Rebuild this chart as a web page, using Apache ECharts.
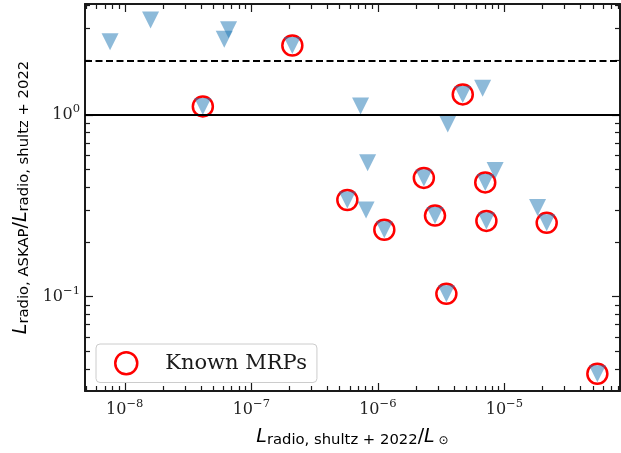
<!DOCTYPE html>
<html><head><meta charset="utf-8">
<script src="https://cdn.jsdelivr.net/npm/echarts@6/dist/echarts.min.js"></script>
<style>html,body{margin:0;padding:0;background:#fff}#c{width:621px;height:453px}</style>
</head><body><div id="c"></div>
<script>
// All sources (downward triangles = upper limits)
const srcX = [7.65e-9, 1.60e-8, 6.11e-8, 6.61e-8, 2.11e-7, 4.14e-8, 7.30e-7, 4.69e-6, 6.73e-6, 3.57e-6, 8.30e-7, 2.31e-6, 7.06e-6, 8.45e-6, 5.74e-7, 8.07e-7, 1.125e-6, 2.83e-6, 7.21e-6, 1.83e-5, 2.16e-5, 3.48e-6, 5.43e-5];
const srcY = [2.53, 3.33, 2.61, 2.94, 2.41, 1.114, 1.12, 1.297, 1.403, 0.892, 0.546, 0.450, 0.425, 0.494, 0.340, 0.300, 0.233, 0.279, 0.261, 0.309, 0.2545, 0.1035, 0.0376];
// Known MRPs (red circles)
const mrpX = [2.11e-7, 4.14e-8, 4.69e-6, 2.31e-6, 7.06e-6, 5.74e-7, 1.125e-6, 2.83e-6, 7.21e-6, 2.16e-5, 3.48e-6, 5.43e-5];
const mrpY = [2.41, 1.114, 1.297, 0.450, 0.425, 0.340, 0.233, 0.279, 0.261, 0.2545, 0.1035, 0.0376];
// Reference lines: ratio = 1 (solid), ratio = 2 (dashed)
const refLines = [1, 2];
// Axis ranges
const xRange = [4.85e-9, 8.2e-5];
const yRange = [0.0302, 4.08];
// Major ticks and labels
const xMajor = [1e-8, 1e-7, 1e-6, 1e-5];
const xTickExp = ['\u22128', '\u22127', '\u22126', '\u22125'];
const yMajor = [1e-1, 1e0];
const yTickExp = ['\u22121', '0'];

const lg = Math.log10;
const xMin = lg(xRange[0]), xMax = lg(xRange[1]);
const yMin = lg(yRange[0]), yMax = lg(yRange[1]);
function minorTicks(lo, hi) {
  const out = [];
  for (let n = Math.floor(lo) - 1; n <= Math.ceil(hi); n++) {
    for (let k = 2; k <= 9; k++) {
      const v = n + lg(k);
      if (v > lo && v < hi) out.push(v);
    }
  }
  return out;
}
const xMajorLog = xMajor.map(lg), yMajorLog = yMajor.map(lg);
const xMinorLog = minorTicks(xMin, xMax), yMinorLog = minorTicks(yMin, yMax);

const INK = '#1a1a1a';
const tickRich = {
  b: {fontFamily: 'DejaVu Serif', fontSize: 16, color: '#222'},
  s: {fontFamily: 'DejaVu Serif', fontSize: 11.5, color: '#222', padding: [0, 0, 11, 0]}
};
function fmt(majors, exps) {
  return function (v) {
    const i = majors.findIndex(t => Math.abs(t - v) < 1e-6);
    return i < 0 ? '' : '{b|10}{s|' + exps[i] + '}';
  };
}
const nameRich = {
  L: {fontFamily: 'DejaVu Sans', fontStyle: 'italic', fontSize: 19, color: '#000'},
  s: {fontFamily: 'DejaVu Sans', fontSize: 14.8, color: '#000', padding: [7, 0, 0, 0]},
  sl: {fontFamily: 'DejaVu Sans', fontSize: 19, color: '#000'},
  o: {fontFamily: 'DejaVu Sans', fontSize: 12, color: '#000', padding: [7, 0, 0, 4]}
};
function axisBase(dim, pos, major, withLine) {
  const isX = dim === 'x';
  return {
    type: 'value', position: pos,
    min: isX ? xMin : yMin, max: isX ? xMax : yMax,
    axisLine: {show: withLine, onZero: false, lineStyle: {color: INK, width: 2}},
    axisTick: {show: true, inside: true, length: major ? 8 : 5,
      customValues: major ? (isX ? xMajorLog : yMajorLog) : (isX ? xMinorLog : yMinorLog),
      lineStyle: {color: INK, width: 1.2}},
    axisLabel: {show: false},
    splitLine: {show: false}
  };
}
const xa0 = axisBase('x', 'bottom', true, true);
xa0.axisLabel = {show: true, customValues: xMajorLog, margin: 7, formatter: fmt(xMajorLog, xTickExp), rich: tickRich};
xa0.name = '{L|L}{s|radio, shultz + 2022}{sl|/}{L|L}{o|\u2299}';
xa0.nameLocation = 'middle';
xa0.nameGap = 35;
xa0.nameTextStyle = {rich: nameRich};
const ya0 = axisBase('y', 'left', true, true);
ya0.axisLabel = {show: true, customValues: yMajorLog, margin: 5, formatter: fmt(yMajorLog, yTickExp), rich: tickRich};
ya0.name = '{L|L}{s|radio, ASKAP}{sl|/}{L|L}{s|radio, shultz + 2022}';
ya0.nameLocation = 'middle';
ya0.nameGap = 43;
ya0.nameTextStyle = {rich: nameRich};

const option = {
  animation: false,
  backgroundColor: '#fff',
  grid: {left: 85, right: 1, top: 4, bottom: 62, containLabel: false},
  xAxis: [xa0, axisBase('x', 'bottom', false, false), axisBase('x', 'top', true, true), axisBase('x', 'top', false, false)],
  yAxis: [ya0, axisBase('y', 'left', false, false), axisBase('y', 'right', true, true), axisBase('y', 'right', false, false)],
  legend: {
    data: ['Known MRPs'],
    left: 96, top: 344,
    padding: [7, 10, 7, 18],
    itemWidth: 22, itemHeight: 22,
    backgroundColor: 'rgba(255,255,255,0.8)',
    borderColor: '#cccccc', borderWidth: 1, borderRadius: 4,
    itemStyle: {color: 'rgba(0,0,0,0)', borderColor: '#ff0000', borderWidth: 2.5},
    formatter: '{t|{name}}',
    textStyle: {rich: {t: {fontFamily: 'DejaVu Serif', fontSize: 21, color: '#1a1a1a', padding: [0, 0, 0, 23]}}},
    selectedMode: false
  },
  series: [
    {
      type: 'scatter', name: 'ref', xAxisIndex: 0, yAxisIndex: 0, data: [], z: 1,
      markLine: {
        silent: true, symbol: 'none', label: {show: false}, animation: false,
        data: refLines.map((v, i) => ({yAxis: lg(v), lineStyle: {color: '#000', width: i === 0 ? 2 : 1.8, type: i === 0 ? 'solid' : [7, 3.5]}}))
      }
    },
    {
      type: 'scatter', name: 'Known MRPs', xAxisIndex: 0, yAxisIndex: 0, z: 2,
      data: mrpX.map((x, i) => [lg(x), lg(mrpY[i])]),
      symbol: 'circle', symbolSize: 20,
      itemStyle: {color: 'rgba(0,0,0,0)', borderColor: '#ff0000', borderWidth: 2.5, opacity: 1},
      emphasis: {disabled: true}
    },
    {
      type: 'scatter', name: 'sources', xAxisIndex: 0, yAxisIndex: 0, z: 3,
      data: srcX.map((x, i) => [lg(x), lg(srcY[i])]),
      symbol: 'triangle', symbolRotate: 180, symbolSize: [17, 17],
      itemStyle: {color: 'rgba(31,119,180,0.64)'},
      emphasis: {disabled: true}
    }
  ]
};
echarts.init(document.getElementById('c'), null, {renderer: 'canvas'}).setOption(option);
</script></body></html>
